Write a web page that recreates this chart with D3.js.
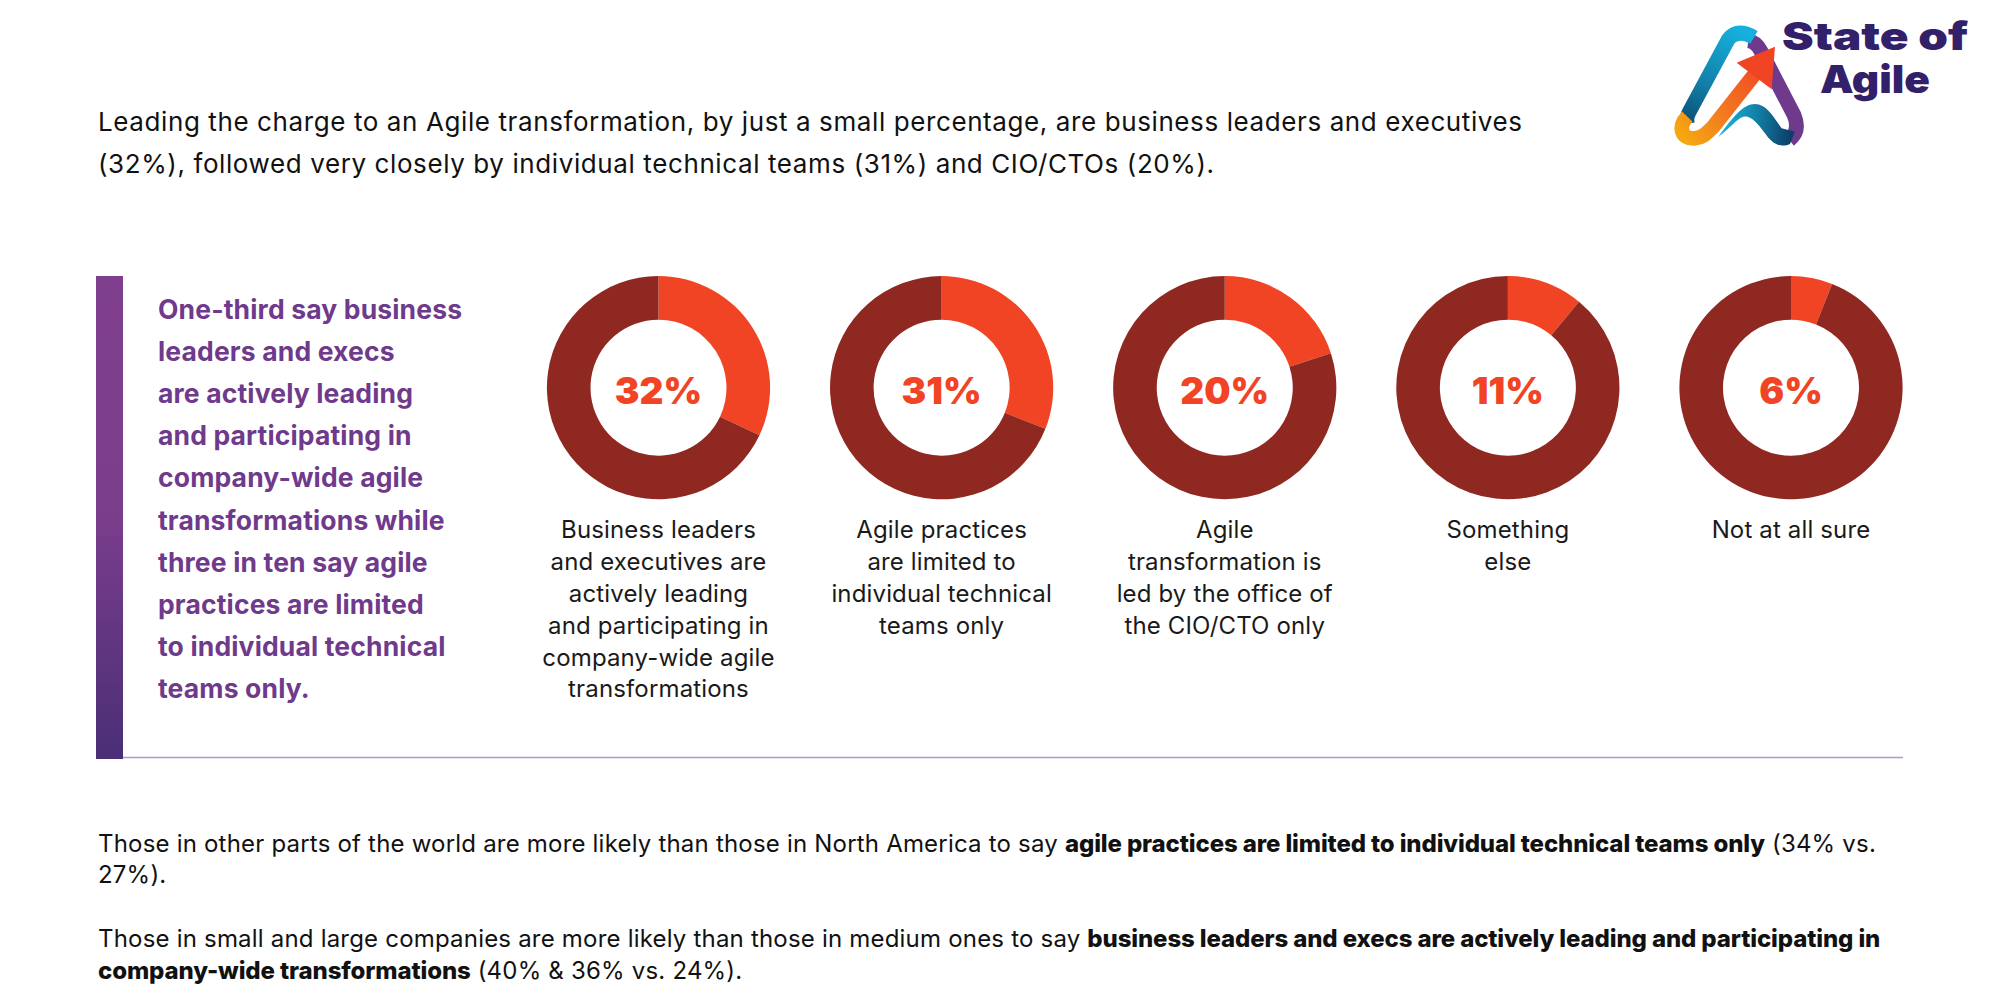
<!DOCTYPE html>
<html>
<head>
<meta charset="utf-8">
<script src="https://cdn.jsdelivr.net/npm/d3@7"></script>
<style>
  html, body { margin: 0; background: #fff; }
  text { font-family: Inter, "Open Sans", sans-serif; }
</style>
</head>
<body>
<div id="chart"></div>
<script>
// chart data
const categories = ['Business leaders', 'Agile practices', 'Agile transformation', 'Something else', 'Not at all sure'];
const shares = [32, 31, 20, 11, 6];
const captions = [
  ['Business leaders', 'and executives are', 'actively leading', 'and participating in', 'company-wide agile', 'transformations'],
  ['Agile practices', 'are limited to', 'individual technical', 'teams only'],
  ['Agile', 'transformation is', 'led by the office of', 'the CIO/CTO only'],
  ['Something', 'else'],
  ['Not at all sure'],
];
const introLines = [
  'Leading the charge to an Agile transformation, by just a small percentage, are business leaders and executives',
  '(32%), followed very closely by individual technical teams (31%) and CIO/CTOs (20%).',
];
const calloutLines = [
  'One-third say business', 'leaders and execs', 'are actively leading', 'and participating in',
  'company-wide agile', 'transformations while', 'three in ten say agile', 'practices are limited',
  'to individual technical', 'teams only.',
];
// each row: runs of [text, bold]
const footerRows = [
  [['Those in other parts of the world are more likely than those in North America to say ', false],
   ['agile practices are limited to individual technical teams only', true], [' (34% vs.', false]],
  [['27%).', false]],
  [['Those in small and large companies are more likely than those in medium ones to say ', false],
   ['business leaders and execs are actively leading and participating in', true]],
  [['company-wide transformations', true], [' (40% & 36% vs. 24%).', false]],
];

const svg = d3.select('#chart').append('svg')
  .attr('width', 2000).attr('height', 1000).attr('viewBox', '0 0 2000 1000')
  .style('display', 'block');
const defs = svg.append('defs');

function linearGrad(id, x1, y1, x2, y2, stops) {
  const g = defs.append('linearGradient').attr('id', id)
    .attr('gradientUnits', 'userSpaceOnUse')
    .attr('x1', x1).attr('y1', y1).attr('x2', x2).attr('y2', y2);
  stops.forEach(([o, c]) => g.append('stop').attr('offset', o).attr('stop-color', c));
}

// intro paragraph
svg.append('g').selectAll('text').data(introLines).join('text')
  .attr('x', 98).attr('y', (d, i) => 130.5 + i * 42)
  .attr('font-size', 26).attr('letter-spacing', 0.6).attr('fill', '#111')
  .text(d => d);

// callout bar + rule
linearGrad('barGrad', 0, 276, 0, 759, [[0, '#7f3f8e'], [0.5, '#7a3d8c'], [1, '#4a2f76']]);
svg.append('rect').attr('x', 96).attr('y', 276).attr('width', 27).attr('height', 483)
  .attr('fill', 'url(#barGrad)');
svg.append('line').attr('x1', 123).attr('x2', 1903).attr('y1', 757.5).attr('y2', 757.5)
  .attr('stroke', '#b594c6').attr('stroke-width', 1.6);

const calloutY = d3.scaleLinear().domain([0, calloutLines.length - 1]).range([319, 698]);
svg.append('g').selectAll('text').data(calloutLines).join('text')
  .attr('x', 158).attr('y', (d, i) => calloutY(i))
  .attr('font-size', 26.5).attr('letter-spacing', 0.15).attr('font-weight', 700).attr('fill', '#6f3a8c')
  .text(d => d);

// donuts
const outerR = 111.6, innerR = 68;
const cx = d3.scalePoint().domain(categories).range([658.5, 1791]);
const pie = d3.pie().sort(null).value(d => d);
const arc = d3.arc().innerRadius(innerR).outerRadius(outerR);

const donut = svg.append('g').selectAll('g').data(categories).join('g')
  .attr('transform', d => `translate(${cx(d)},387.7)`);

donut.selectAll('path')
  .data((d, i) => pie([shares[i], 100 - shares[i]]))
  .join('path')
  .attr('d', arc)
  .attr('fill', (d, i) => i === 0 ? '#f04424' : '#8f2820');

donut.append('text')
  .attr('text-anchor', 'middle').attr('y', 16.5)
  .attr('font-size', 37).attr('font-weight', 900).attr('fill', '#f04424')
  .text((d, i) => shares[i] + '%');

donut.append('g').selectAll('text')
  .data((d, i) => captions[i])
  .join('text')
  .attr('text-anchor', 'middle')
  .attr('y', (d, i) => 150.3 + i * 31.9)
  .attr('font-size', 24).attr('letter-spacing', 0.15).attr('fill', '#1a1a1a')
  .text(d => d);

// footer
const footerY = [851.5, 883, 947, 978.5];
const footer = svg.append('g');
footerRows.forEach((runs, r) => {
  const t = footer.append('text').attr('x', 98).attr('y', footerY[r])
    .attr('font-size', 24).attr('fill', '#111').attr('xml:space', 'preserve');
  runs.forEach(([txt, bold]) => {
    t.append('tspan')
      .attr('font-weight', bold ? 800 : 400)
      .attr('letter-spacing', bold ? -0.12 : 0.2)
      .text(txt);
  });
});

// logo, drawn in 3x units from the crop
const logo = svg.append('g').attr('transform', 'translate(1600,0) scale(0.3333)');
linearGrad('logoCyan', 420, 90, 260, 370, [[0, '#17b0de'], [0.6, '#127fa8'], [1, '#0c4f74']]);
linearGrad('logoSwoosh', 355, 400, 570, 430, [[0, '#1ab5e0'], [0.5, '#127fa5'], [1, '#0b3f68']]);
linearGrad('logoArrow', 250, 420, 500, 180, [[0, '#f5a911'], [0.4, '#f37a1f'], [1, '#f04424']]);

logo.append('path')
  .attr('d', 'M445 122 Q468 125 482 152 L582 345 Q602 392 568 420')
  .attr('fill', 'none').attr('stroke', '#6f3a8c').attr('stroke-width', 44);
logo.append('path')
  .attr('d', 'M355 410 C400 350 430 312 465 312 C500 312 520 350 545 385 L585 395 L570 432 C540 445 515 430 495 400 C470 365 450 345 430 350 C410 355 385 390 355 410 Z')
  .attr('fill', 'url(#logoSwoosh)');
logo.append('path')
  .attr('d', 'M462 112 Q412 84 385 118 L268 335 Q258 352 262 372')
  .attr('fill', 'none').attr('stroke', 'url(#logoCyan)').attr('stroke-width', 44);
logo.append('path')
  .attr('d', 'M262 350 C235 378 240 418 285 415 C310 412 320 400 340 380 L490 190')
  .attr('fill', 'none').attr('stroke', 'url(#logoArrow)').attr('stroke-width', 44);
logo.append('path')
  .attr('d', 'M525 140 L410 188 L515 268 Z')
  .attr('fill', '#f04424');

svg.append('text').attr('x', 1875).attr('y', 50).attr('text-anchor', 'middle')
  .attr('font-size', 39).attr('font-weight', 900).attr('fill', '#33206b')
  .attr('textLength', 186).attr('lengthAdjust', 'spacingAndGlyphs').text('State of');
svg.append('text').attr('x', 1875).attr('y', 93).attr('text-anchor', 'middle')
  .attr('font-size', 39).attr('font-weight', 900).attr('fill', '#33206b')
  .attr('textLength', 110).attr('lengthAdjust', 'spacingAndGlyphs').text('Agile');
</script>
</body>
</html>
